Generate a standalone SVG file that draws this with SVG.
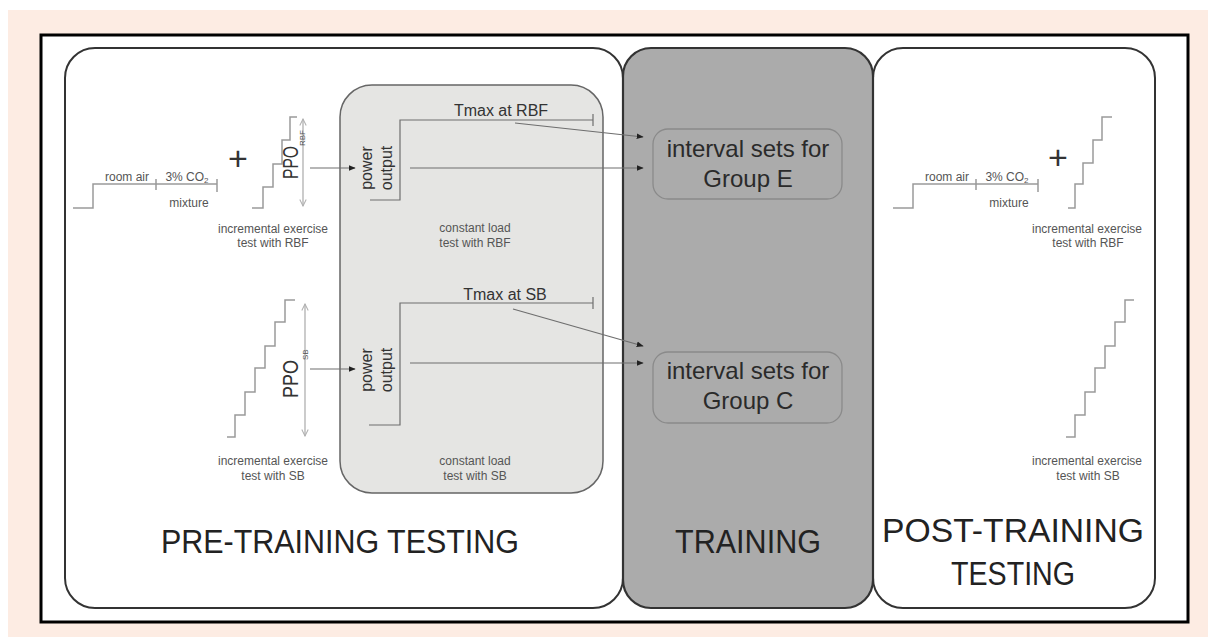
<svg xmlns="http://www.w3.org/2000/svg" width="1208" height="637" viewBox="0 0 1208 637">
<defs>
<style>
.panel{fill:#fff;stroke:#333;stroke-width:2}
.gray{fill:#ababab;stroke:#333;stroke-width:2.2}
.inner{fill:#e5e5e3;stroke:#666;stroke-width:1.5}
.ibox{fill:#ababab;stroke:#8a8a8a;stroke-width:1.3}
.step{fill:none;stroke:#9a9a9a;stroke-width:1.5}
.conn{fill:none;stroke:#6e6e6e;stroke-width:1.2}
.ppo{fill:none;stroke:#b0b0b0;stroke-width:1.3}
.sm{font-family:"Liberation Sans",Arial,sans-serif;font-size:12px;fill:#555;text-anchor:middle}
.md{font-family:"Liberation Sans",Arial,sans-serif;font-size:16px;fill:#333;text-anchor:middle}
.lg{font-family:"Liberation Sans",Arial,sans-serif;font-size:24px;fill:#2a2a2a;text-anchor:middle}
.big{font-family:"Liberation Sans",Arial,sans-serif;font-size:34px;fill:#222;text-anchor:middle}
.plus{font-family:"Liberation Sans",Arial,sans-serif;font-size:34px;fill:#333;text-anchor:middle}
</style>
<marker id="ah" viewBox="0 0 10 10" refX="9" refY="5" markerWidth="7" markerHeight="7" markerUnits="userSpaceOnUse" orient="auto">
<path d="M0 1 L10 5 L0 9 Z" fill="#222"/>
</marker>
<marker id="oh" viewBox="0 0 10 10" refX="9" refY="5" markerWidth="8" markerHeight="8" markerUnits="userSpaceOnUse" orient="auto-start-reverse">
<path d="M1 1 L9 5 L1 9" fill="none" stroke="#b0b0b0" stroke-width="1.3"/>
</marker>
</defs>
<rect x="0" y="0" width="1208" height="637" fill="#fff"/>
<rect x="8" y="10" width="1200" height="627" fill="#fdece3"/>
<rect x="41" y="35" width="1147" height="587" fill="#fff" stroke="#000" stroke-width="3"/>

<g id="pre-training">
<rect class="panel" x="65" y="48" width="558" height="560" rx="30" ry="30"/>
<text class="big" x="340" y="553" textLength="358" lengthAdjust="spacingAndGlyphs">PRE-TRAINING TESTING</text>
</g>
<g id="post-training">
<rect class="panel" x="873" y="48" width="282" height="560" rx="30" ry="30"/>
<text class="big" x="1013" y="542" font-size="36" textLength="262" lengthAdjust="spacingAndGlyphs">POST-TRAINING</text>
<text class="big" x="1013" y="585" font-size="36" textLength="124" lengthAdjust="spacingAndGlyphs">TESTING</text>
</g>
<g id="training">
<rect class="gray" x="623" y="48" width="250" height="560" rx="28" ry="28"/>
<text class="big" x="748" y="553" textLength="146" lengthAdjust="spacingAndGlyphs">TRAINING</text>
</g>

<g id="constant-load">
<rect class="inner" x="340" y="85" width="263" height="408" rx="32" ry="32"/>
<text class="sm" x="475" y="232">constant load</text>
<text class="sm" x="475" y="247">test with RBF</text>
<text class="sm" x="475" y="465">constant load</text>
<text class="sm" x="475" y="480">test with SB</text>
</g>

<g id="cl-rbf">
<path class="conn" d="M370 200 H400 V120 H593 M593 114 V126"/>
<text class="md" x="501" y="116">Tmax at RBF</text>
<g transform="translate(372,168) rotate(-90)">
<text class="md" x="0" y="0">power</text>
<text class="md" x="0" y="20">output</text>
</g>
</g>
<g id="cl-sb">
<path class="conn" d="M369 425 H400 V303 H593 M593 297 V309"/>
<text class="md" x="505" y="300">Tmax at SB</text>
<g transform="translate(372,370) rotate(-90)">
<text class="md" x="0" y="0">power</text>
<text class="md" x="0" y="20">output</text>
</g>
</g>

<g id="group-e">
<rect class="ibox" x="653" y="129" width="189" height="70" rx="15" ry="15"/>
<text class="lg" x="748" y="157">interval sets for</text>
<text class="lg" x="748" y="187">Group E</text>
</g>
<g id="group-c">
<rect class="ibox" x="653" y="352" width="189" height="71" rx="15" ry="15"/>
<text class="lg" x="748" y="379">interval sets for</text>
<text class="lg" x="748" y="409">Group C</text>
</g>

<g id="pre-gas">
<path class="step" d="M73 208 H93 V184 H217 M156 179 V190 M217 179 V192"/>
<text class="sm" x="127" y="181">room air</text>
<text class="sm" x="187" y="181">3% CO<tspan font-size="8" dy="2">2</tspan></text>
<text class="sm" x="189" y="207">mixture</text>
<text class="plus" x="238" y="170">+</text>
</g>
<g id="pre-inc-rbf">
<path class="step" d="M252 208 H263 V187 H273 V164 H282 V140 H290 V117 H297"/>
<line class="ppo" x1="303" y1="119" x2="303" y2="206" marker-start="url(#oh)" marker-end="url(#oh)"/>
<text font-family="Liberation Sans, Arial, sans-serif" font-size="22" fill="#333" transform="translate(298,179) rotate(-90)" textLength="33" lengthAdjust="spacingAndGlyphs">PPO</text>
<text font-family="Liberation Sans, Arial, sans-serif" font-size="8" fill="#555" transform="translate(305,146) rotate(-90)">RBF</text>
<text class="sm" x="273" y="233">incremental exercise</text>
<text class="sm" x="273" y="247">test with RBF</text>
</g>
<g id="pre-inc-sb">
<path class="step" d="M227 437 H235 V415 H245 V392 H255 V368 H265 V346 H275 V322 H285 V300 H295"/>
<line class="ppo" x1="305" y1="304" x2="305" y2="436" marker-start="url(#oh)" marker-end="url(#oh)"/>
<text font-family="Liberation Sans, Arial, sans-serif" font-size="22" fill="#333" transform="translate(298,398) rotate(-90)" textLength="38" lengthAdjust="spacingAndGlyphs">PPO</text>
<text font-family="Liberation Sans, Arial, sans-serif" font-size="8" fill="#555" transform="translate(308,360) rotate(-90)">SB</text>
<text class="sm" x="273" y="465">incremental exercise</text>
<text class="sm" x="273" y="480">test with SB</text>
</g>

<g id="post-gas">
<path class="step" d="M893 208 H913 V184 H1038 M976 179 V190 M1038 179 V192"/>
<text class="sm" x="947" y="181">room air</text>
<text class="sm" x="1007" y="181">3% CO<tspan font-size="8" dy="2">2</tspan></text>
<text class="sm" x="1009" y="207">mixture</text>
<text class="plus" x="1058" y="169">+</text>
</g>
<g id="post-inc-rbf">
<path class="step" d="M1068 208 H1075 V184 H1083 V163 H1093 V140 H1102 V117 H1112"/>
<text class="sm" x="1087" y="233">incremental exercise</text>
<text class="sm" x="1088" y="247">test with RBF</text>
</g>
<g id="post-inc-sb">
<path class="step" d="M1066 437 H1075 V415 H1085 V392 H1095 V368 H1105 V346 H1115 V322 H1125 V300 H1134"/>
<text class="sm" x="1087" y="465">incremental exercise</text>
<text class="sm" x="1088" y="480">test with SB</text>
</g>

<g id="connectors">
<line class="conn" x1="310" y1="168" x2="355" y2="168" marker-end="url(#ah)"/>
<line class="conn" x1="310" y1="369" x2="355" y2="369" marker-end="url(#ah)"/>
<line class="conn" x1="515" y1="123" x2="643" y2="137" marker-end="url(#ah)"/>
<line class="conn" x1="410" y1="168" x2="643" y2="168" marker-end="url(#ah)"/>
<line class="conn" x1="513" y1="309" x2="643" y2="346" marker-end="url(#ah)"/>
<line class="conn" x1="410" y1="363" x2="643" y2="363" marker-end="url(#ah)"/>
</g>
</svg>
